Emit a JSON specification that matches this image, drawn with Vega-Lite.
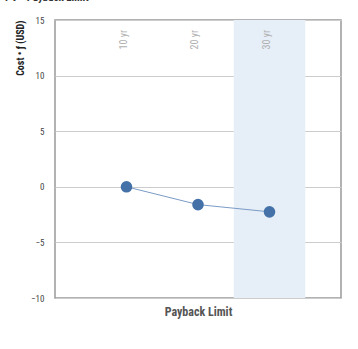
{
  "$schema": "https://vega.github.io/schema/vega-lite/v6.json",
  "autosize": "none",
  "width": 286,
  "height": 278,
  "padding": {"left": 55, "top": 20, "right": 17, "bottom": 51},
  "title": {"text": "PV - Payback Limit", "anchor": "start", "frame": "group", "offset": 13, "dx": -50, "fontSize": 11, "font": "Liberation Sans Narrow, Roboto Condensed, Roboto, sans-serif", "fontWeight": "bold", "color": "#333"},
  "data": {"values": [
    {"limit": "10 yr", "cost": 0, "selected": false},
    {"limit": "20 yr", "cost": -1.6, "selected": false},
    {"limit": "30 yr", "cost": -2.25, "selected": true}
  ]},
  "config": {
    "view": {"stroke": "#999", "strokeWidth": 1.5},
    "font": "Liberation Sans Narrow, Roboto Condensed, Roboto, sans-serif"
  },
  "encoding": {
    "x": {"field": "limit", "type": "nominal",
      "scale": {"domain": ["10 yr", "20 yr", "30 yr"], "paddingInner": 0, "paddingOuter": 0.5},
      "axis": {"title": "Payback Limit", "labels": false, "ticks": false, "domain": false, "titleFontSize": 12, "titleFontWeight": "bold", "titleColor": "#555", "titlePadding": 8}}
  },
  "layer": [
    {
      "transform": [{"filter": "datum.selected"}],
      "mark": {"type": "rect", "color": "#e6eef7"},
      "encoding": {}
    },
    {
      "mark": {"type": "line", "color": "#7a9cc6", "strokeWidth": 1},
      "encoding": {
        "y": {"field": "cost", "type": "quantitative",
          "scale": {"domain": [-10, 15], "nice": false, "zero": false},
          "axis": {"values": [-10, -5, 0, 5, 10, 15], "labelOverlap": false, "title": "Cost • ƒ (USD)", "titleAnchor": "end", "titleFontSize": 10, "titleFontWeight": "bold", "titleColor": "#222", "titlePadding": 5, "labelFontSize": 9, "labelColor": "#444", "labelPadding": 11, "labelBound": false, "labelFlush": false, "ticks": false, "domain": false, "gridColor": "#ccc"}}
      }
    },
    {
      "mark": {"type": "circle", "color": "#4472a8", "opacity": 1, "size": 135},
      "encoding": {"y": {"field": "cost", "type": "quantitative"}}
    },
    {
      "mark": {"type": "text", "angle": 270, "align": "right", "baseline": "middle", "dx": -10, "dy": -3, "fontSize": 10, "color": "#b0b0b0"},
      "encoding": {"y": {"datum": 15}, "text": {"field": "limit"}}
    }
  ]
}
